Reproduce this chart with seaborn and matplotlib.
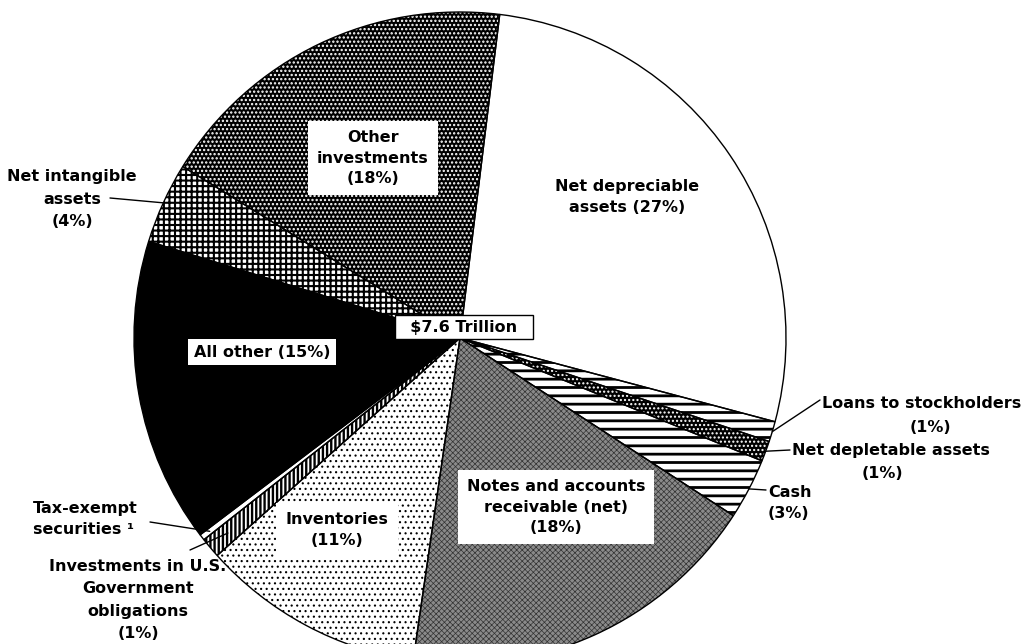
import numpy as np
import seaborn as sns
import matplotlib.pyplot as plt

# total assets share by type (percent)
segments = [
	"Net depreciable assets", "Loans to stockholders", "Net depletable assets", "Cash",
	"Notes and accounts receivable (net)", "Inventories",
	"Investments in U.S. Government obligations", "Tax-exempt securities",
	"All other", "Net intangible assets", "Other investments",
]
shares = [27, 1, 1, 3, 18, 11, 1, 0.3, 15, 4, 18]
total_label = "$7.6 Trillion"

# fill style per slice: (face, hatch colour, hatch, hatch width)
styles = [
	("white", "black", None, 1.0),
	("white", "black", "--", 2.0),
	("black", "white", "....", 1.0),
	("white", "black", "--", 2.0),
	("#8a8a8a", "#333333", "xxxxxx", 0.5),
	("white", "black", "...", 0.8),
	("white", "black", "||||", 1.7),
	("white", "white", None, 1.0),
	("black", "black", None, 1.0),
	("white", "black", "+++", 1.5),
	("black", "white", "....", 1.1),
]

sns.set_theme(style="white")
plt.rcParams['font.family'] = ['DejaVu Sans']
plt.rcParams['hatch.linewidth'] = 1.0
plt.rcParams['text.color'] = 'black'

W, H = 1026, 644
CX, CY, R = 460, H - 338, 326
START = 83

fig = plt.figure(figsize=(W / 100, H / 100), dpi=100)
ax = fig.add_axes([0, 0, 1, 1])

wedges, _ = ax.pie(shares, startangle=START, counterclock=False, center=(CX, CY),
				   radius=R, frame=True, wedgeprops=dict(linewidth=0))
for w, (face, hcol, hatch, hlw) in zip(wedges, styles):
	w.set_facecolor(face)
	w.set_edgecolor(hcol)
	if hatch:
		w.set_hatch(hatch)
		if hasattr(w, 'set_hatch_linewidth'):
			w.set_hatch_linewidth(hlw)

# outline on top
ax.pie(shares, startangle=START, counterclock=False, center=(CX, CY), radius=R, frame=True,
	   wedgeprops=dict(fill=False, edgecolor="black", linewidth=1.0))

ax.set_xlim(0, W)
ax.set_ylim(0, H)
ax.set_aspect('equal')
ax.axis('off')


def rim(i, frac=1.0):
	w = wedges[i]
	a = np.radians((w.theta1 + w.theta2) / 2)
	return CX + R * frac * np.cos(a), CY + R * frac * np.sin(a)


txt = dict(fontsize=11.5, fontweight='bold', ha='center', va='center', linespacing=1.45, color='black')
left = {**txt, 'ha': 'left'}
box = dict(boxstyle='square,pad=0.55', facecolor='white', edgecolor='none')

ax.text(373, H - 158, "Other\ninvestments\n(18%)", bbox=box, **txt)
ax.text(627, H - 197, "Net depreciable\nassets (27%)", **txt)
ax.text(464, H - 327, "  " + total_label + "  ", bbox=dict(boxstyle='square,pad=0.3', facecolor='white',
		edgecolor='black', linewidth=1), **txt)
ax.text(262, H - 352, "All other (15%)", bbox=dict(boxstyle='square,pad=0.35', facecolor='white', edgecolor='none'), **txt)
ax.text(337, H - 530, "Inventories\n(11%)", bbox=dict(boxstyle='square,pad=0.6', facecolor='white', edgecolor='none'), **txt)
ax.text(556, H - 507, "Notes and accounts\nreceivable (net)\n(18%)", bbox=box, **txt)

# outside labels with leader lines
ax.text(72, H - 199, "Net intangible\nassets\n(4%)", **{**txt, 'linespacing': 1.6})
x, y = rim(9)
ax.plot([110, x], [H - 198, y], color='black', lw=1)

ax.text(33, H - 519, "Tax-exempt\nsecurities \u00b9", **left)
x, y = rim(7, 0.97)
ax.plot([150, x], [H - 522, y], color='black', lw=1)

ax.text(138, H - 600, "Investments in U.S.\nGovernment\nobligations\n(1%)", **{**txt, 'linespacing': 1.6})
x, y = rim(6, 0.93)
ax.plot([190, x], [H - 550, y], color='black', lw=1)

ax.text(822, H - 403, "Loans to stockholders", **left)
ax.text(930, H - 428, "(1%)", **txt)
x, y = rim(1)
ax.plot([x, 820], [y, H - 400], color='black', lw=1)

ax.text(792, H - 450, "Net depletable assets", **left)
ax.text(882, H - 474, "(1%)", **txt)
x, y = rim(2)
ax.plot([x, 790], [y, H - 450], color='black', lw=1)

ax.text(768, H - 503, "Cash\n(3%)", **left)
x, y = rim(3)
ax.plot([x, 766], [y, H - 490], color='black', lw=1)

fig.savefig("out.png", dpi=100, facecolor='white')
